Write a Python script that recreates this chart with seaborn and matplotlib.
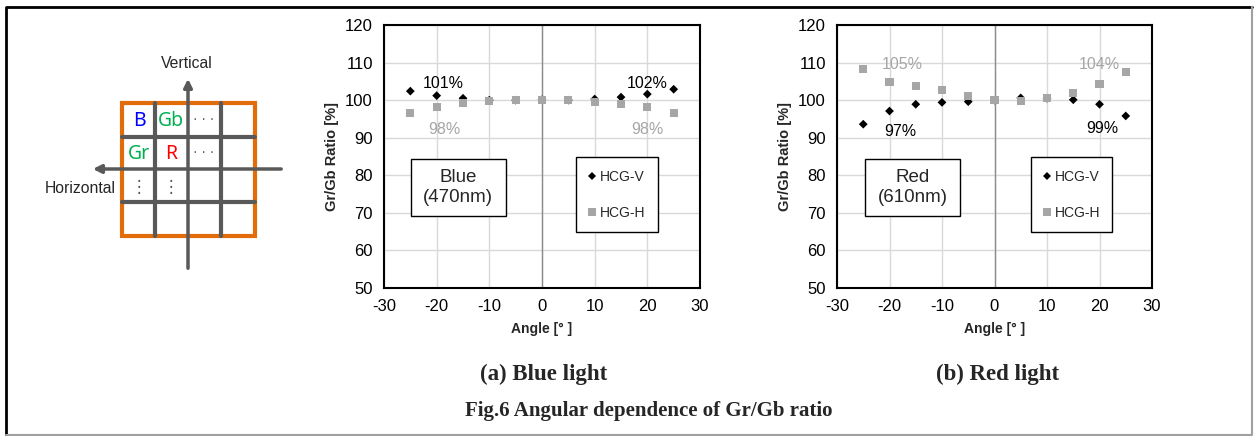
import numpy as np
import pandas as pd
import seaborn as sns
import matplotlib.pyplot as plt
from matplotlib.patches import Rectangle

# data
angles = [-25, -20, -15, -10, -5, 0, 5, 10, 15, 20, 25]
blue_v = [102.4, 101.2, 100.5, 100.0, 100.0, 100.1, 100.0, 100.3, 100.8, 101.6, 102.9]
blue_h = [96.5, 98.1, 99.2, 99.7, 100.0, 100.1, 100.0, 99.5, 98.9, 98.1, 96.5]
red_v = [93.6, 97.1, 98.9, 99.4, 99.6, 100.0, 100.6, 100.5, 100.1, 98.9, 95.8]
red_h = [108.3, 104.9, 103.7, 102.6, 101.0, 100.0, 99.7, 100.5, 101.8, 104.2, 107.4]
series_names = ["HCG-V", "HCG-H"]
x_ticks = [-30, -20, -10, 0, 10, 20, 30]
y_ticks = [50, 60, 70, 80, 90, 100, 110, 120]

# percentage notes: (text, angle, ratio, series)
blue_notes = [("101%", -18.8, 104.5, "HCG-V"), ("102%", 19.9, 104.5, "HCG-V"),
              ("98%", -18.5, 92.3, "HCG-H"), ("98%", 20.0, 92.3, "HCG-H")]
red_notes = [("105%", -17.5, 109.4, "HCG-H"), ("104%", 20.0, 109.4, "HCG-H"),
             ("97%", -18.0, 91.6, "HCG-V"), ("99%", 20.5, 92.4, "HCG-V")]

colors = {"HCG-V": "black", "HCG-H": "#a6a6a6"}
markers = {"HCG-V": "D", "HCG-H": "s"}
msizes = {"HCG-V": 20, "HCG-H": 34}

sns.set_style("white")
plt.rcParams["font.family"] = ["Liberation Sans", "DejaVu Sans"]
plt.rcParams["axes.unicode_minus"] = False

fig = plt.figure(figsize=(12.55, 4.36), dpi=100)

# background layer in pixel coordinates: frame + pixel diagram
bg = fig.add_axes([0, 0, 1, 1], zorder=-1)
bg.set_xlim(0, 1255)
bg.set_ylim(436, 0)
bg.axis("off")
bg.plot([6, 6, 1252], [436, 7, 7], color="black", lw=2)
bg.plot([1252, 1252, 6], [7, 435, 435], color="#a0a0a0", lw=1.5)

# pixel array sketch
gray = "#595959"
for gx in [155, 221]:
    bg.plot([gx, gx], [103, 236], color=gray, lw=3)
for gy in [137, 202]:
    bg.plot([122, 255], [gy, gy], color=gray, lw=3)
bg.annotate("", xy=(188, 76), xytext=(188, 271),
            arrowprops=dict(arrowstyle="-|>", color=gray, lw=2.5, mutation_scale=12))
bg.annotate("", xy=(90, 169), xytext=(284, 169),
            arrowprops=dict(arrowstyle="-|>", color=gray, lw=2.5, mutation_scale=12))
bg.add_patch(Rectangle((122, 103), 133, 133, fill=False, ec="#e36c0a", lw=3))
bg.text(187, 64, "Vertical", ha="center", va="center", fontsize=11.3)
bg.text(80, 188, "Horizontal", ha="center", va="center", fontsize=11.3)
cells = [("B", 139, 121, "#0000ff"), ("Gb", 171, 121, "#00b050"), ("Gr", 139, 154, "#00b050"),
         ("R", 171, 154, "#ff0000")]
for t, cx, cy, c in cells:
    bg.text(cx, cy, t, ha="center", va="center", fontsize=14, color=c, family="Noto Sans")
for cx, cy in [(204, 119), (204, 152)]:
    bg.text(cx, cy, "· · ·", ha="center", va="center", fontsize=10, color=gray)
for cx, cy in [(139, 187), (171, 187)]:
    bg.text(cx, cy, "⋮", ha="center", va="center", fontsize=12, color=gray, family="DejaVu Sans")


def draw_panel(ax, v, h, notes, box_text, box_x, legend_x):
    df = pd.DataFrame({
        "angle": angles * 2,
        "ratio": v + h,
        "series": [series_names[0]] * len(v) + [series_names[1]] * len(h),
    })
    sns.scatterplot(data=df, x="angle", y="ratio", hue="series", style="series", size="series",
                    palette=colors, markers=markers, sizes=msizes, linewidth=0, ax=ax, zorder=3)
    ax.set_xlim(-30, 30)
    ax.set_ylim(50, 120)
    ax.set_xticks(x_ticks)
    ax.set_yticks(y_ticks)
    ax.grid(True, color="#d9d9d9", lw=1)
    ax.axvline(0, color="#8c8c8c", lw=1, zorder=2)
    for sp in ax.spines.values():
        sp.set_visible(True)
        sp.set_color("black")
        sp.set_linewidth(1.5)
    ax.tick_params(length=0, labelsize=12, pad=8, colors="black")
    ax.set_xlabel("Angle [° ]", fontsize=10, fontweight="bold", labelpad=6)
    ax.set_ylabel("Gr/Gb Ratio [%]", fontsize=10.5, fontweight="bold", labelpad=4)
    for t, x, y, s in notes:
        ax.text(x, y, t, ha="center", va="center", fontsize=11.5, color=colors[s], zorder=4)
    # label box
    ax.add_patch(Rectangle((box_x, 69.2), 18, 15.1, fill=True, fc="white", ec="black", lw=1, zorder=4))
    ax.text(box_x + 9, 76.8, box_text, ha="center", va="center", fontsize=13.5,
            linespacing=1.2, zorder=5)
    leg = ax.legend(loc="center", bbox_to_anchor=(legend_x, 0.355), frameon=True, fancybox=False,
                    edgecolor="black", framealpha=1, fontsize=10, labelspacing=1.6,
                    handlelength=0.5, handletextpad=0.3, borderpad=0.9, markerscale=0.9)
    leg.get_frame().set_linewidth(1)
    leg.set_zorder(5)


ax1 = fig.add_axes([384 / 1255, 148 / 436, 316 / 1255, 263 / 436])
draw_panel(ax1, blue_v, blue_h, blue_notes, "Blue\n(470nm)", -24.9, 0.737)
ax2 = fig.add_axes([837 / 1255, 148 / 436, 315 / 1255, 263 / 436])
draw_panel(ax2, red_v, red_h, red_notes, "Red\n(610nm)", -24.6, 0.745)

# captions
fig.text(544 / 1255, 1 - 374 / 436, "(a) Blue light", ha="center", va="center",
         fontsize=16.5, fontweight="bold", family="Liberation Serif")
fig.text(998 / 1255, 1 - 374 / 436, "(b) Red light", ha="center", va="center",
         fontsize=16.5, fontweight="bold", family="Liberation Serif")
fig.text(649 / 1255, 1 - 411 / 436, "Fig.6 Angular dependence of Gr/Gb ratio", ha="center",
         va="center", fontsize=15, fontweight="bold", family="Liberation Serif")

fig.savefig("out.png", dpi=100)
